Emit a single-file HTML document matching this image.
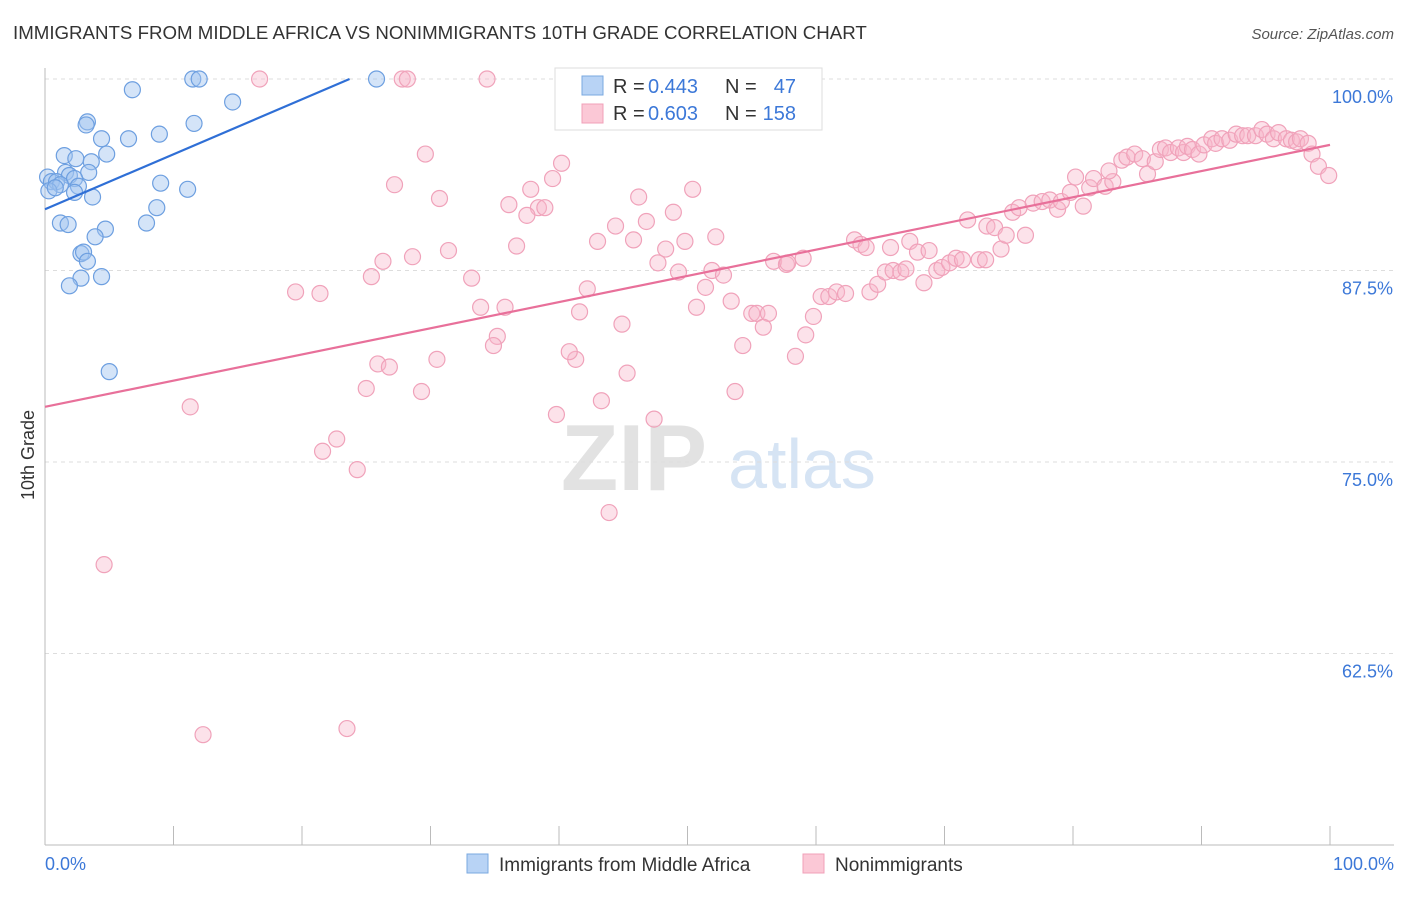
<!DOCTYPE html>
<html><head><meta charset="utf-8">
<style>
body{margin:0;background:#fff;font-family:"Liberation Sans",sans-serif;}
svg text{font-family:"Liberation Sans",sans-serif;}
</style></head>
<body>
<svg id="chart" width="1406" height="892" xmlns="http://www.w3.org/2000/svg">
<text x="13" y="39" font-size="18.7" fill="#333">IMMIGRANTS FROM MIDDLE AFRICA VS NONIMMIGRANTS 10TH GRADE CORRELATION CHART</text>
<text x="1394" y="39" font-size="15" fill="#555" text-anchor="end" font-style="italic">Source: ZipAtlas.com</text>
<g>
<text x="634" y="490" font-size="94" fill="#e2e2e2" text-anchor="middle" font-family="Liberation Serif" font-weight="bold">ZIP</text>
<text x="802" y="488" font-size="70" fill="#d6e4f4" text-anchor="middle">atlas</text>
</g>
<g id="grid"></g>
<g id="axes"></g>
<g id="pink"></g>
<g id="blue"></g>
<g id="trends"></g>
<text transform="translate(34,455) rotate(-90)" font-size="18" fill="#333" text-anchor="middle">10th Grade</text>
<g>
<rect x="555" y="68" width="267" height="62" fill="#fff" stroke="#ddd"/>
<rect x="582" y="76" width="21" height="19" fill="#b8d3f5" stroke="#7aa8e0"/>
<rect x="582" y="104" width="21" height="19" fill="#fbc8d6" stroke="#f0a0b8"/>
<text x="613" y="93" font-size="20" fill="#333">R =</text>
<text x="648" y="93" font-size="20" fill="#3c78d8">0.443</text>
<text x="725" y="93" font-size="20" fill="#333">N =</text>
<text x="796" y="93" font-size="20" fill="#3c78d8" text-anchor="end">47</text>
<text x="613" y="120" font-size="20" fill="#333">R =</text>
<text x="648" y="120" font-size="20" fill="#3c78d8">0.603</text>
<text x="725" y="120" font-size="20" fill="#333">N =</text>
<text x="796" y="120" font-size="20" fill="#3c78d8" text-anchor="end">158</text>
</g>
<g>
<rect x="467" y="854" width="21" height="19" fill="#b8d3f5" stroke="#7aa8e0"/>
<text x="499" y="871" font-size="19" fill="#333">Immigrants from Middle Africa</text>
<rect x="803" y="854" width="21" height="19" fill="#fbc8d6" stroke="#f0a0b8"/>
<text x="835" y="871" font-size="19" fill="#333">Nonimmigrants</text>
</g>
</svg>
<script>
const yTicks=[100,87.5,75,62.5];
const yTickLabels=["100.0%","87.5%","75.0%","62.5%"];
const xTickCount=10;
const blueX=[6.8,11.5,12.0,25.8,14.6,3.3,3.2,8.9,11.6,6.5,4.4,1.5,2.4,3.6,4.8,3.4,1.6,1.9,2.3,0.2,0.5,0.9,1.2,0.3,0.8,2.6,2.3,3.7,9.0,11.1,8.7,1.2,1.8,7.9,4.7,3.9,2.8,3.0,3.3,4.4,2.8,1.9,5.0];
const blueY=[99.3,100,100,100,98.5,97.2,97.0,96.4,97.1,96.1,96.1,95.0,94.8,94.6,95.1,93.9,93.9,93.7,93.5,93.6,93.3,93.3,93.1,92.7,92.9,93.0,92.6,92.3,93.2,92.8,91.6,90.6,90.5,90.6,90.2,89.7,88.6,88.7,88.1,87.1,87.0,86.5,80.9];
const pinkX=[16.7,27.8,28.2,34.4,29.6,27.2,30.7,36.1,37.8,40.2,39.5,38.4,38.9,37.5,36.7,31.4,28.6,26.3,25.4,33.2,19.5,21.4,33.9,35.8,35.2,34.9,30.5,25.9,26.8,25.0,29.3,11.3,22.7,21.6,24.3,4.6,12.3,23.5,43.9,39.8,43.3,47.4,45.3,41.3,40.8,44.9,41.6,42.2,43.0,44.4,45.8,46.8,46.2,48.9,50.4,48.3,49.8,47.7,49.3,52.2,51.9,52.8,51.4,53.4,50.7,55.0,55.4,56.3,55.9,54.3,53.7,58.4,59.2,59.8,56.7,57.7,57.8,59.0,60.4,61.0,61.6,62.3,63.0,63.5,63.9,64.2,64.8,65.4,66.0,66.6,67.0,67.3,65.8,67.9,68.4,68.8,69.4,69.8,70.4,70.9,71.4,72.7,73.2,74.4,71.8,73.3,73.9,74.8,76.3,75.3,75.8,76.9,77.6,78.2,78.8,79.1,79.8,80.8,80.2,81.3,81.6,82.5,83.1,82.8,83.8,84.2,84.8,85.4,85.8,86.4,86.8,87.2,87.6,88.2,88.6,88.9,89.3,89.8,90.2,90.8,91.1,91.6,92.2,92.7,93.2,93.6,94.2,94.7,95.1,95.6,96.0,96.6,97.0,97.4,97.7,98.3,98.6,99.1,99.9];
const pinkY=[100,100,100,100,95.1,93.1,92.2,91.8,92.8,94.5,93.5,91.6,91.6,91.1,89.1,88.8,88.4,88.1,87.1,87.0,86.1,86.0,85.1,85.1,83.2,82.6,81.7,81.4,81.2,79.8,79.6,78.6,76.5,75.7,74.5,68.3,57.2,57.6,71.7,78.1,79.0,77.8,80.8,81.7,82.2,84.0,84.8,86.3,89.4,90.4,89.5,90.7,92.3,91.3,92.8,88.9,89.4,88.0,87.4,89.7,87.5,87.2,86.4,85.5,85.1,84.7,84.7,84.7,83.8,82.6,79.6,81.9,83.3,84.5,88.1,87.9,88.0,88.3,85.8,85.8,86.1,86.0,89.5,89.2,89.0,86.1,86.6,87.4,87.5,87.4,87.6,89.4,89.0,88.7,86.7,88.8,87.5,87.7,88.0,88.3,88.2,88.2,88.2,88.9,90.8,90.4,90.3,89.8,89.8,91.3,91.6,91.9,92.0,92.1,91.5,92.0,92.6,91.7,93.6,92.9,93.5,93.0,93.3,94.0,94.7,94.9,95.1,94.8,93.8,94.6,95.4,95.5,95.2,95.5,95.2,95.6,95.4,95.1,95.7,96.1,95.8,96.1,96.0,96.4,96.3,96.3,96.3,96.7,96.4,96.1,96.5,96.1,96.0,95.9,96.1,95.8,95.1,94.3,93.7];
const blueTrend=[[0,91.5],[23.7,100]];
const pinkTrend=[[0,78.6],[100,95.7]];

const NS="http://www.w3.org/2000/svg";
const X0=45,X1=1330,YT=79,YB=845;
function sx(v){return X0+(X1-X0)*v/100;}
function sy(v){return YT+(100-v)*(YB-YT)/50;}
function mk(tag,attrs,parent){const e=document.createElementNS(NS,tag);for(const k in attrs)e.setAttribute(k,attrs[k]);parent.appendChild(e);return e;}
const grid=document.getElementById('grid'),axes=document.getElementById('axes');
yTicks.forEach((t,i)=>{
 const l=mk('line',{x1:X0,x2:1394,y1:sy(t),y2:sy(t),stroke:'#ddd','stroke-dasharray':'4,4'},grid);
 
 
 const tx=mk('text',{x:1393,y:sy(t)+24,'font-size':18,fill:'#3c78d8','text-anchor':'end'},axes);
 tx.textContent=yTickLabels[i];
 
 
});
const ax=mk('line',{x1:X0,x2:1394,y1:YB,y2:YB,stroke:'#bbb'},axes);


const ay=mk('line',{x1:X0,x2:X0,y1:68,y2:YB,stroke:'#bbb'},axes);


for(let i=0;i<=xTickCount;i++){
 const x=sx(i*100/xTickCount);
 const tk=mk('line',{x1:x,x2:x,y1:826,y2:YB,stroke:'#bbb'},axes);
 
 
}
const xl=mk('text',{x:45,y:870,'font-size':18,fill:'#3c78d8'},axes);xl.textContent='0.0%';


const xr=mk('text',{x:1394,y:870,'font-size':18,fill:'#3c78d8','text-anchor':'end'},axes);xr.textContent='100.0%';


const pg=document.getElementById('pink');
pinkX.forEach((v,i)=>{const c=mk('circle',{cx:sx(v),cy:sy(pinkY[i]),r:8,fill:'rgba(248,182,202,0.4)',stroke:'#f0a2ba','stroke-width':1.2},pg);
 
 });
const bg=document.getElementById('blue');
blueX.forEach((v,i)=>{const c=mk('circle',{cx:sx(v),cy:sy(blueY[i]),r:8,fill:'rgba(160,196,240,0.45)',stroke:'#6d9fe0','stroke-width':1.2},bg);
 
 });
const tg=document.getElementById('trends');
const bt=mk('line',{x1:sx(blueTrend[0][0]),y1:sy(blueTrend[0][1]),x2:sx(blueTrend[1][0]),y2:sy(blueTrend[1][1]),stroke:'#2f6fd6','stroke-width':2.2},tg);


const pt=mk('line',{x1:sx(pinkTrend[0][0]),y1:sy(pinkTrend[0][1]),x2:sx(pinkTrend[1][0]),y2:sy(pinkTrend[1][1]),stroke:'#e8709a','stroke-width':2.2},tg);


</script>
</body></html>
